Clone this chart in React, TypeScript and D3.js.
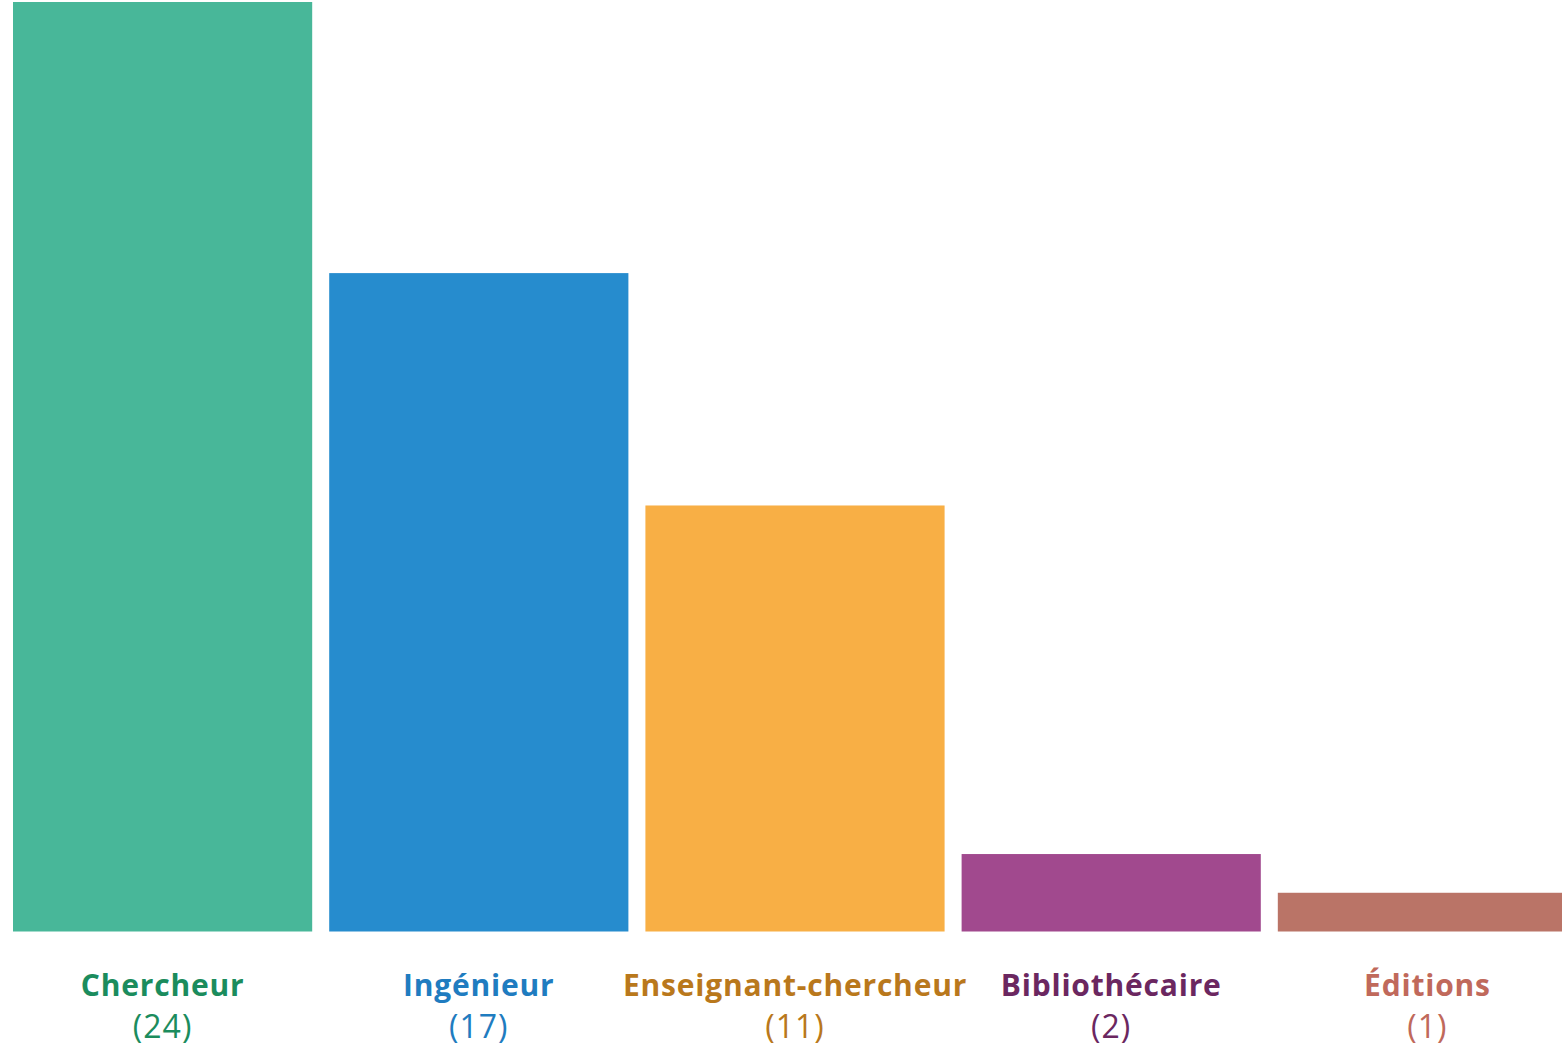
import { useEffect, useRef } from 'react';
import * as d3 from 'd3';

// Données du graphique
const categories = ['Chercheur', 'Ingénieur', 'Enseignant-chercheur', 'Bibliothécaire', 'Éditions'];
const values = [24, 17, 11, 2, 1];
const barColors = ['#48b799', '#268cce', '#f8af45', '#a1498e', '#ba7467'];
const labelColors = ['#1b8c5d', '#1f7cc0', '#b9781c', '#6b2760', '#c0695b'];

const App = () => {
  const svgRef = useRef<SVGSVGElement | null>(null);

  useEffect(() => {
    const width = 1562;
    const height = 1047;

    const svg = d3.select(svgRef.current);
    svg.selectAll('*').remove();
    svg.attr('width', width).attr('height', height);

    // Escalas
    const x = d3.scaleBand<string>()
      .domain(categories)
      .range([13, 1577])
      .paddingInner(17 / 316)
      .paddingOuter(0);

    const y = d3.scaleLinear()
      .domain([0, 24])
      .range([931.5, 2]);

    const rows = categories.map((c, i) => ({ c, v: values[i], i }));

    // Barras
    svg.selectAll('.bar')
      .data(rows)
      .enter().append('rect')
      .attr('class', 'bar')
      .attr('x', d => x(d.c)!)
      .attr('y', d => y(d.v))
      .attr('width', x.bandwidth())
      .attr('height', d => y(0) - y(d.v))
      .attr('fill', d => barColors[d.i]);

    // Etiquetas
    const labels = svg.selectAll('.label')
      .data(rows)
      .enter().append('g')
      .attr('class', 'label')
      .attr('transform', d => `translate(${x(d.c)! + x.bandwidth() / 2},0)`)
      .style('font-family', '"Open Sans", Lato, sans-serif')
      .style('text-anchor', 'middle');

    labels.append('text')
      .attr('y', 996)
      .style('font-size', '30px')
      .style('font-weight', 'bold')
      .style('letter-spacing', '0.8px')
      .style('fill', d => labelColors[d.i])
      .text(d => d.c);

    labels.append('text')
      .attr('y', 1038)
      .style('font-size', '32px')
      .style('letter-spacing', '1px')
      .style('fill', d => labelColors[d.i])
      .text(d => `(${d.v})`);
  }, []);

  return (
    <svg ref={svgRef} style={{ position: 'absolute', left: 0, top: 0, display: 'block' }}></svg>
  );
};

export default App;
